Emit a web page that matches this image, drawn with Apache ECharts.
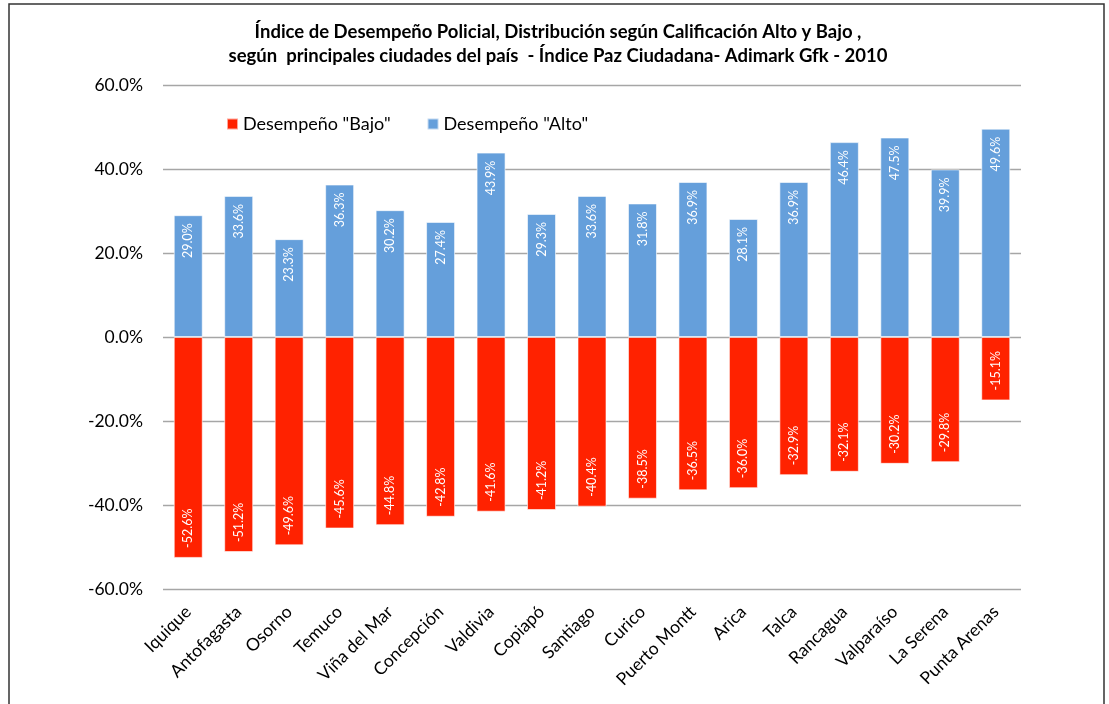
<!DOCTYPE html>
<html>
<head>
<meta charset="utf-8">
<script src="https://cdn.jsdelivr.net/npm/echarts@6/dist/echarts.min.js"></script>
<style>
  html, body { margin: 0; padding: 0; background: #fff; }
  #chart { width: 1109px; height: 704px; }
</style>
</head>
<body>
<div id="chart"></div>
<script>
// ciudades y porcentajes
const cities = ['Iquique', 'Antofagasta', 'Osorno', 'Temuco', 'Viña del Mar', 'Concepción', 'Valdivia', 'Copiapó',
  'Santiago', 'Curico', 'Puerto Montt', 'Arica', 'Talca', 'Rancagua', 'Valparaíso', 'La Serena', 'Punta Arenas'];
const alto = [29.0, 33.6, 23.3, 36.3, 30.2, 27.4, 43.9, 29.3, 33.6, 31.8, 36.9, 28.1, 36.9, 46.4, 47.5, 39.9, 49.6];
const bajo = [-52.6, -51.2, -49.6, -45.6, -44.8, -42.8, -41.6, -41.2, -40.4, -38.5, -36.5, -36.0, -32.9, -32.1, -30.2, -29.8, -15.1];
const yTicks = [-60, -40, -20, 0, 20, 40, 60];

const font = 'Lato';
const chart = echarts.init(document.getElementById('chart'));

const pct = v => v.toFixed(1) + '%';

chart.setOption({
  animation: false,
  textStyle: { fontFamily: font },
  title: {
    text: 'Índice de Desempeño Policial, Distribución según Calificación Alto y Bajo ,\nsegún  principales ciudades del país  - Índice Paz Ciudadana- Adimark Gfk - 2010',
    left: 553,
    textAlign: 'center',
    top: 15,
    textStyle: { fontFamily: font, fontSize: 18.5, fontWeight: 'bold', color: '#000', lineHeight: 24 }
  },
  legend: {
    left: 221,
    top: 110,
    itemWidth: 11,
    itemHeight: 11,
    itemGap: 36,
    icon: 'rect',
    textStyle: { fontFamily: font, fontSize: 18, color: '#000' },
    data: ['Desempeño "Bajo"', 'Desempeño "Alto"']
  },
  grid: { left: 163, right: 88, top: 85, bottom: 115, containLabel: false },
  xAxis: {
    type: 'category',
    data: cities,
    axisLine: { show: false },
    axisTick: { show: false },
    axisLabel: { rotate: 45, margin: 20, fontSize: 17.5, color: '#000', fontFamily: font, interval: 0 }
  },
  yAxis: {
    type: 'value',
    min: yTicks[0],
    max: yTicks[yTicks.length - 1],
    interval: 20,
    axisLine: { show: false },
    axisTick: { show: false },
    axisLabel: { margin: 20, fontSize: 17.5, color: '#000', fontFamily: font, formatter: v => pct(v) },
    splitLine: { lineStyle: { color: '#a6a6a6', width: 1.3 } }
  },
  series: [
    {
      name: 'Desempeño "Bajo"',
      type: 'bar',
      data: bajo,
      barWidth: 29,
      barGap: '-100%',
      itemStyle: { color: '#ff2200', borderColor: 'rgba(255,255,255,0.6)', borderWidth: 1 },
      label: {
        show: true, position: 'insideBottom', rotate: 90, distance: 10,
        align: 'left', verticalAlign: 'middle',
        color: '#fff', fontSize: 12.5, fontFamily: font,
        formatter: p => pct(p.value)
      }
    },
    {
      name: 'Desempeño "Alto"',
      type: 'bar',
      data: alto,
      barWidth: 29,
      barGap: '-100%',
      itemStyle: { color: '#659fdb', borderColor: 'rgba(255,255,255,0.6)', borderWidth: 1 },
      label: {
        show: true, position: 'insideTop', rotate: 90, distance: 8,
        align: 'right', verticalAlign: 'middle',
        color: '#fff', fontSize: 12.5, fontFamily: font,
        formatter: p => pct(p.value)
      }
    }
  ],
  graphic: [{
    type: 'rect',
    shape: { x: 9, y: 4, width: 1095, height: 720 },
    style: { fill: 'none', stroke: '#333', lineWidth: 1.5 },
    silent: true
  }]
});
</script>
</body>
</html>
